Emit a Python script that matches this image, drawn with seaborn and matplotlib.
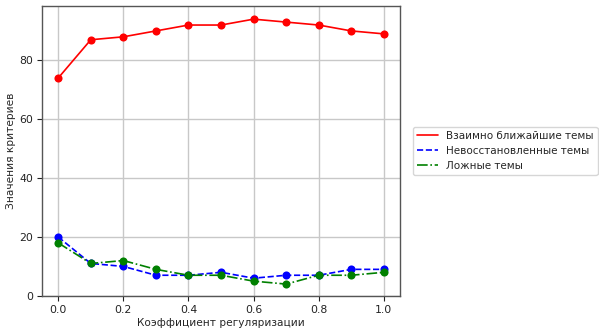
import matplotlib
matplotlib.use("Agg")
import matplotlib.pyplot as plt
import seaborn as sns
import pandas as pd

reg_coef = [0.0, 0.1, 0.2, 0.3, 0.4, 0.5, 0.6, 0.7, 0.8, 0.9, 1.0]
nearest_topics = [74, 87, 88, 90, 92, 92, 94, 93, 92, 90, 89]
unrecovered_topics = [20, 11, 10, 7, 7, 8, 6, 7, 7, 9, 9]
false_topics = [18, 11, 12, 9, 7, 7, 5, 4, 7, 7, 8]

labels = ["Взаимно ближайшие темы", "Невосстановленные темы", "Ложные темы"]
colors = ["red", "blue", "green"]
styles = ["-", "--", "-."]

sns.set_style("whitegrid", {
    "axes.edgecolor": "#555555",
    "grid.color": "#c8c8c8",
    "xtick.bottom": True,
    "ytick.left": True,
    "xtick.color": "#222222",
    "ytick.color": "#222222",
})
plt.rcParams["font.family"] = ["DejaVu Sans"]

fig = plt.figure(figsize=(5.99, 3.28), dpi=100)
ax = fig.add_axes([0.070, 0.098, 0.598, 0.884])

series = [nearest_topics, unrecovered_topics, false_topics]
for vals, lab, col, ls in zip(series, labels, colors, styles):
    df = pd.DataFrame({"x": reg_coef, "y": vals})
    sns.lineplot(data=df, x="x", y="y", ax=ax, color=col, linestyle=ls,
                 linewidth=1.2, label=lab)
    ax.scatter(df["x"], df["y"], color=col, s=34, zorder=3, linewidths=0)

ax.set_ylim(bottom=0)
ax.set_xlabel("Коэффициент регуляризации", fontsize=7.6, labelpad=2)
ax.set_ylabel("Значения критериев", fontsize=7.6, labelpad=2)
ax.tick_params(labelsize=7.8, length=3.5, width=0.8, pad=3)
for s in ax.spines.values():
    s.set_linewidth(1.0)
ax.grid(True, linewidth=1.0)

ax.legend(loc="center left", bbox_to_anchor=(1.02, 0.5), fontsize=7.5,
          frameon=True, handlelength=2.0)

fig.savefig("out.png", dpi=100)
